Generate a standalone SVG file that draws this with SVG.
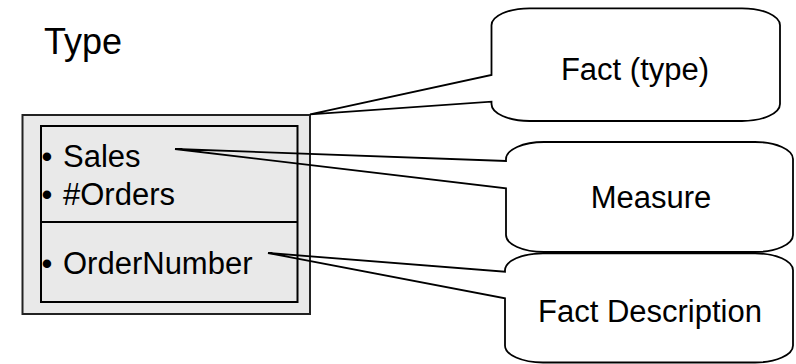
<svg xmlns="http://www.w3.org/2000/svg" width="796" height="364" viewBox="0 0 796 364">
<style>
text{font-family:"Liberation Sans",Arial,sans-serif;font-size:31px;fill:#000}
.c{fill:none;stroke:#000;stroke-width:1.8;stroke-linejoin:miter}
.mid{text-anchor:middle}
</style>
<rect width="796" height="364" fill="#fff"/>
<g id="fact-type-box">
<rect x="22.5" y="115" width="287.5" height="199" fill="#e9e9e9" stroke="#222" stroke-width="2"/>
<rect x="41" y="126" width="256.5" height="176" fill="none" stroke="#000" stroke-width="2"/>
<line x1="41" y1="222" x2="297.5" y2="222" stroke="#000" stroke-width="2"/>
<text x="41.5" y="167">•</text><text x="63" y="167">Sales</text>
<text x="41.5" y="205">•</text><text x="63" y="205">#Orders</text>
<text x="41.5" y="274">•</text><text x="63" y="274">OrderNumber</text>
</g>
<g id="title"><text x="44" y="54" style="font-size:36px">Type</text></g>
<g id="connectors">
<path class="c" d="M529.5,8.3 H742 A38 17 0 0 1 780,25.3 V104 A38 17 0 0 1 742,121 H529.5 A38 17 0 0 1 491.5,104 V101.7 L310,114.3 L491.5,75 V25.3 A38 17 0 0 1 529.5,8.3 Z"/>
<path class="c" d="M544,142 H755 A38 17 0 0 1 793,159 V235 A38 17 0 0 1 755,252 H544 A38 17 0 0 1 506,235 V188.3 L175,149 L506,161 V159 A38 17 0 0 1 544,142 Z"/>
<path class="c" d="M543,253.3 H755 A38 17 0 0 1 793,270.3 V345.5 A38 17 0 0 1 755,362.5 H543 A38 17 0 0 1 505,345.5 V298.3 L268,253 L505,271.7 V270.3 A38 17 0 0 1 543,253.3 Z"/>
</g>
<g id="fact-type"><text class="mid" x="635" y="80">Fact (type)</text></g>
<g id="measure"><text class="mid" x="651" y="208">Measure</text></g>
<g id="fact-description"><text class="mid" x="650" y="322">Fact Description</text></g>
</svg>
